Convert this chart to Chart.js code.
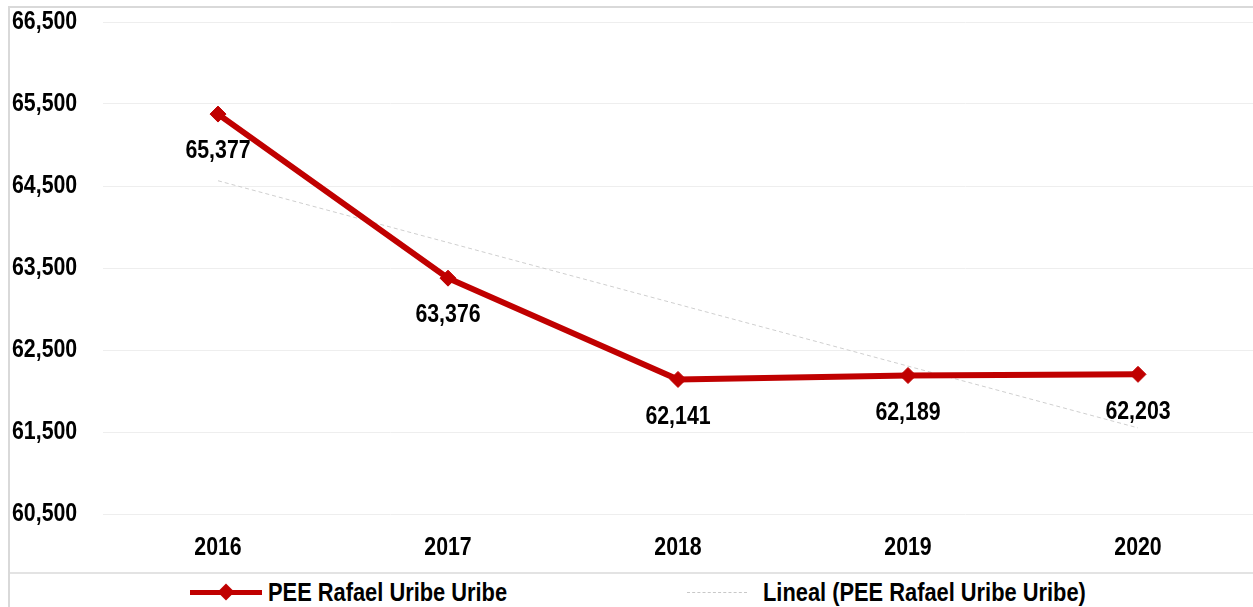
<!DOCTYPE html>
<html>
<head>
<meta charset="utf-8">
<script src="https://cdn.jsdelivr.net/npm/chart.js@4/dist/chart.umd.min.js"></script>
<style>
  html, body { margin: 0; padding: 0; background: #fff; overflow: hidden; }
  #wrap { position: relative; width: 1253px; height: 607px; overflow: hidden; }
  #frame { position: absolute; left: 8px; top: 6px; width: 1300px; height: 700px;
           border-left: 2px solid #d9d9d9; border-top: 2px solid #d9d9d9; }
  #sep { position: absolute; left: 10px; top: 572px; width: 1300px; height: 0;
         border-top: 2px solid #e3e3e3; }
  #box { position: absolute; left: 0; top: 0; width: 1262px; height: 572px; }
  .lg { position: absolute; top: 577px; height: 30px; font: bold 26px 'Liberation Sans', Arial, sans-serif;
        color: #000; line-height: 30px; white-space: nowrap; transform: scaleX(0.84); transform-origin: 0 50%; }
  .ln { position: absolute; top: 592px; height: 0; }
</style>
</head>
<body>
<div id="wrap">
  <div id="frame"></div>
  <div id="box"><canvas id="chart"></canvas></div>
  <div id="sep"></div>
  <div class="ln" style="left:190px;width:72px;border-top:5px solid #c00000;top:590px;"></div>
  <div style="position:absolute;left:220px;top:586px;width:12px;height:12px;background:#c00000;transform:rotate(45deg);"></div>
  <div class="lg" style="left:268px;">PEE Rafael Uribe Uribe</div>
  <div class="ln" style="left:687px;width:60px;border-top:1px dashed #c8c8c8;"></div>
  <div class="lg" style="left:763px;">Lineal (PEE Rafael Uribe Uribe)</div>
</div>
<script>
// datos
const years = ['2016', '2017', '2018', '2019', '2020'];
const pee = [65377, 63376, 62141, 62189, 62203];
// tendencia lineal (solo extremos)
const trend = [64564, null, null, null, 61550];
const yTicks = [60500, 61500, 62500, 63500, 64500, 65500, 66500];

const FONT = "bold 26px 'Liberation Sans', Arial, sans-serif";
const fmt = v => v.toLocaleString('en-US');

// texto "angosto" tipo Arial Narrow: Liberation Sans comprimido al 82%
function narrowText(ctx, txt, x, y, align) {
  ctx.save();
  ctx.translate(x, y);
  ctx.scale(0.82, 1);
  ctx.font = FONT;
  ctx.fillStyle = '#000';
  ctx.textAlign = align;
  ctx.textBaseline = 'middle';
  ctx.fillText(txt, 0, 0);
  ctx.restore();
}

// etiquetas de ejes y de datos
const labelsPlugin = {
  id: 'labelsPlugin',
  afterDatasetsDraw(chart) {
    const ctx = chart.ctx;
    const xs = chart.scales.x, ys = chart.scales.y;
    yTicks.forEach(v => narrowText(ctx, fmt(v), 12, ys.getPixelForValue(v), 'left'));
    years.forEach((y, i) => narrowText(ctx, y, xs.getPixelForValue(i), chart.chartArea.bottom + 34, 'center'));
    const meta = chart.getDatasetMeta(0);
    meta.data.forEach((pt, i) => narrowText(ctx, fmt(pee[i]), pt.x, pt.y + 37, 'center'));
  }
};

new Chart(document.querySelector('#chart').getContext('2d'), {
  type: 'line',
  data: {
    labels: years,
    datasets: [
      {
        label: 'PEE Rafael Uribe Uribe',
        data: pee,
        borderColor: '#c00000',
        backgroundColor: '#c00000',
        borderWidth: 6,
        pointStyle: 'rectRot',
        pointRadius: 8,
        pointBorderWidth: 1,
        tension: 0
      },
      {
        label: 'Lineal (PEE Rafael Uribe Uribe)',
        data: trend,
        spanGaps: true,
        borderColor: '#cfcfcf',
        borderWidth: 1,
        borderDash: [4, 3],
        pointRadius: 0,
        tension: 0
      }
    ]
  },
  options: {
    responsive: true,
    maintainAspectRatio: false,
    animation: false,
    layout: { padding: { top: 22, left: 12, right: 4, bottom: 58 } },
    plugins: { legend: { display: false }, tooltip: { enabled: false } },
    scales: {
      x: {
        display: false,
        offset: true
      },
      y: {
        min: 60500,
        max: 66500,
        afterBuildTicks: s => { s.ticks = yTicks.map(v => ({ value: v })); },
        afterFit: s => { s.width = 91; },
        grid: { color: '#eeeeee', lineWidth: 1, drawTicks: false },
        border: { display: false },
        ticks: { display: false }
      }
    }
  },
  plugins: [labelsPlugin]
});
</script>
</body>
</html>
